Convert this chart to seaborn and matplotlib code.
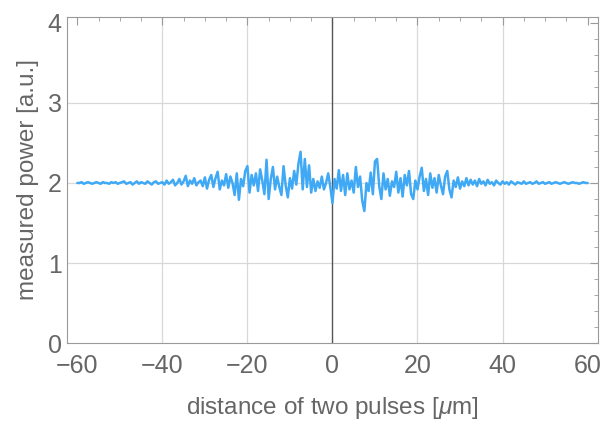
import numpy as np
import pandas as pd
import matplotlib
matplotlib.use("Agg")
import matplotlib.pyplot as plt
import seaborn as sns
from matplotlib.ticker import MultipleLocator

# Measured power, sampled every 0.5 um from -60 um to +60 um
power = [
    # -60 .. -50
    2.00, 2.00, 2.01, 1.99, 2.00, 2.01, 2.00, 1.99, 2.00, 2.01, 2.00,
    1.99, 2.01, 2.00, 2.00, 1.99, 2.01, 2.00, 2.01, 1.99, 2.00,
    # -49.5 .. -40
    2.01, 2.02, 1.99, 2.00, 2.01, 1.98, 2.00, 2.02, 1.99, 2.01,
    2.00, 1.99, 2.02, 2.00, 1.98, 2.01, 2.02, 1.99, 2.00, 2.01,
    # -39.5 .. -30
    1.98, 2.03, 1.99, 2.01, 2.04, 1.97, 2.00, 2.05, 1.98, 2.02,
    2.09, 1.96, 2.03, 1.99, 2.06, 1.97, 2.01, 2.03, 1.96, 2.07,
    # -29.5 .. -20
    1.93, 2.04, 2.10, 1.95, 2.06, 2.14, 1.92, 2.03, 1.97, 2.11,
    1.94, 2.08, 2.00, 1.85, 2.12, 1.79, 2.05, 1.96, 2.15, 2.21,
    # -19.5 .. -10
    1.88, 2.10, 1.97, 2.12, 1.90, 2.17, 2.03, 1.86, 2.29, 1.80,
    2.05, 2.20, 1.92, 2.08, 1.95, 1.85, 2.21, 1.97, 1.82, 2.06,
    # -9.5 .. 0
    1.93, 2.15, 1.98, 2.24, 2.39, 1.92, 2.30, 1.95, 2.22, 1.88,
    2.05, 1.90, 2.02, 1.94, 2.08, 1.92, 2.00, 2.12, 1.95, 1.75,
    # 0.5 .. 10
    2.05, 1.93, 2.16, 1.90, 2.10, 1.85, 2.12, 1.92, 2.03, 1.88,
    2.20, 1.95, 2.08, 1.78, 1.65, 2.00, 1.90, 2.13, 1.86, 2.27,
    # 10.5 .. 20
    2.30, 1.96, 1.80, 2.12, 1.92, 2.05, 1.84, 2.02, 1.95, 2.14,
    1.88, 2.06, 1.83, 2.10, 1.97, 2.15, 1.86, 1.80, 2.03, 1.92,
    # 20.5 .. 30
    2.08, 2.19, 1.90, 2.05, 1.85, 2.12, 1.94, 2.06, 1.88, 2.10,
    1.97, 1.86, 2.08, 2.15, 1.92, 1.82, 2.03, 1.95, 2.07, 1.93,
    # 30.5 .. 40
    2.02, 1.96, 2.06, 1.97, 2.04, 1.98, 2.03, 1.96, 2.05, 1.99,
    2.02, 1.97, 2.04, 1.99, 2.01, 1.97, 2.03, 2.00, 1.98, 2.02,
    # 40.5 .. 50
    1.99, 2.01, 1.98, 2.02, 2.00, 1.98, 2.01, 2.00, 1.99, 2.02,
    1.99, 2.00, 2.01, 1.99, 2.00, 2.02, 1.99, 2.00, 2.01, 1.99,
    # 50.5 .. 60
    2.00, 2.01, 1.99, 2.00, 2.01, 2.00, 1.99, 2.00, 2.01, 2.00,
    1.99, 2.00, 2.01, 2.00, 2.00, 1.99, 2.00, 2.01, 2.00, 2.00,
]
distance = np.linspace(-60, 60, len(power))

x_ticks = [-60, -40, -20, 0, 20, 40, 60]
y_ticks = [0, 1, 2, 3, 4]
x_grid = [-40, -20, 20, 40]
y_grid = [1, 2, 3]

df = pd.DataFrame({"distance": distance, "power": power})

sns.set_style("white")
plt.rcParams["font.family"] = ["Liberation Sans", "DejaVu Sans"]
plt.rcParams["mathtext.fontset"] = "custom"
plt.rcParams["mathtext.it"] = "Liberation Sans:italic"
plt.rcParams["mathtext.rm"] = "Liberation Sans"

fig = plt.figure(figsize=(6.10, 4.21), dpi=100)
ax = fig.add_axes([0.110, 0.185, 0.870, 0.775])

frame_col = "#9a9a9a"
text_col = "#666666"

for gx in x_grid:
    ax.axvline(gx, color="#d8d8d8", lw=0.9, zorder=0)
for gy in y_grid:
    ax.axhline(gy, color="#d8d8d8", lw=0.9, zorder=0)
ax.axvline(0, color="#555555", lw=1.0, zorder=1)

sns.lineplot(data=df, x="distance", y="power", ax=ax,
             color="#3fa9f5", lw=1.8, zorder=3)

ax.set_xlim(-62.4, 62.4)
ax.set_ylim(0, 4.075)
ax.set_xticks(x_ticks)
ax.set_xticklabels([f"{t}".replace("-", "\u2212") for t in x_ticks])
ax.set_yticks(y_ticks)
ax.xaxis.set_minor_locator(MultipleLocator(5))
ax.yaxis.set_minor_locator(MultipleLocator(0.2))

ax.tick_params(which="major", direction="in", length=6, width=0.8,
               color=frame_col, labelsize=18, labelcolor=text_col,
               top=True, right=True)
ax.tick_params(axis="x", which="major", pad=8)
ax.tick_params(axis="y", which="major", pad=4)
ax.tick_params(which="minor", direction="in", length=3, width=0.6,
               color=frame_col, top=True, right=True)

for s in ax.spines.values():
    s.set_visible(True)
    s.set_color(frame_col)
    s.set_linewidth(0.8)

ax.set_xlabel("distance of two pulses [$\\mu$m]", fontsize=17.5,
              color=text_col, labelpad=12)
ax.set_ylabel("measured power [a.u.]", fontsize=17.5, color=text_col,
              labelpad=6)

fig.savefig("out.png", dpi=100)
